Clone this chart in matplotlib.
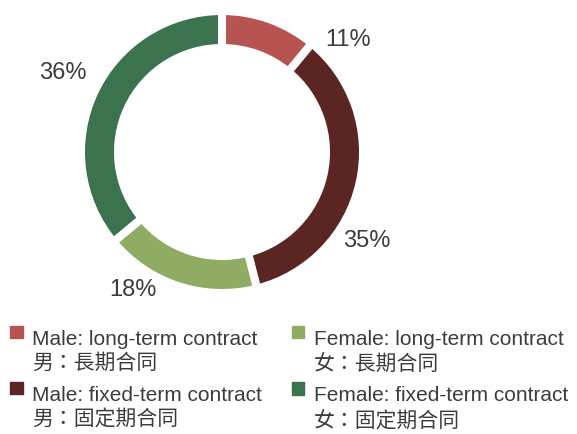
import matplotlib.pyplot as plt
import matplotlib.patches as mpatches
from matplotlib.legend_handler import HandlerPatch

categories = ["Male: long-term contract\n男：長期合同",
              "Male: fixed-term contract\n男：固定期合同",
              "Female: long-term contract\n女：長期合同",
              "Female: fixed-term contract\n女：固定期合同"]
shares = [11, 35, 18, 36]
pct_labels = ["11%", "35%", "18%", "36%"]
colors = ["#B75452", "#5B2524", "#8FAB64", "#3A734D"]

# label spots in pie units (outer radius = 1)
label_pos = [(0.92, 0.82), (1.06, -0.65), (-0.65, -1.01), (-1.16, 0.58)]

plt.rcParams['font.family'] = ['Liberation Sans', 'Noto Sans CJK TC']
txt = "#3c3c3c"

fig = plt.figure(figsize=(5.77, 4.34), dpi=100)
cx, cy, r = 222, 152, 137
ax = fig.add_axes([(cx - r) / 577, (434 - cy - r) / 434, 2 * r / 577, 2 * r / 434])

gap = 8  # px
R = 1 + (gap / 2) / r
w = R - (108 - gap / 2) / r
ax.pie(shares, colors=colors, startangle=90, counterclock=False, radius=R,
       wedgeprops=dict(width=w, edgecolor="white", linewidth=gap * 0.72, clip_on=False))
ax.set_xlim(-1, 1)
ax.set_ylim(-1, 1)
ax.set_aspect('equal')
ax.axis('off')

for (x, y), t in zip(label_pos, pct_labels):
    ax.text(x, y, t, ha='center', va='center', fontsize=17, color=txt, clip_on=False)


def square(legend, orig_handle, xdescent, ydescent, width, height, fontsize):
    s = 0.6 * fontsize
    return mpatches.Rectangle((-xdescent, -ydescent + 0.98 * fontsize), s, s)


handles = [mpatches.Patch(color=c) for c in colors]
leg = fig.legend(handles, categories, ncol=2, loc='upper left',
                 bbox_to_anchor=(10 / 577, 1 - 330 / 434), frameon=False,
                 fontsize=15, labelcolor=txt, borderpad=0, borderaxespad=0,
                 handlelength=0.6, handleheight=0.6, handletextpad=0.45,
                 columnspacing=1.45, labelspacing=0.62,
                 handler_map={mpatches.Patch: HandlerPatch(patch_func=square)})
for t in leg.get_texts():
    t.set_linespacing(1.27)

fig.savefig("out.png", dpi=100)
